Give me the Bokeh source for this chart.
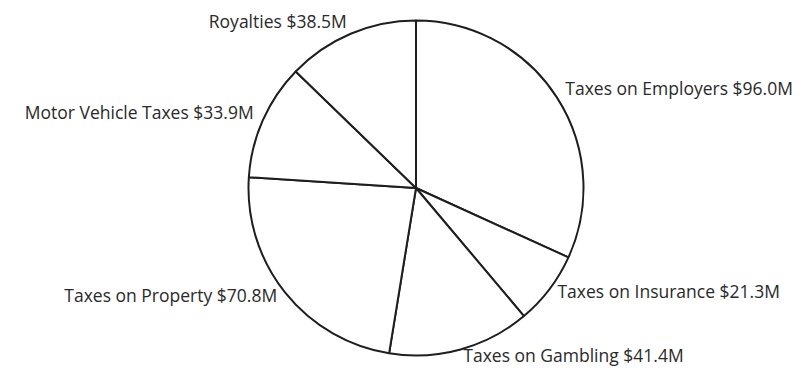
import numpy as np
from bokeh.plotting import figure
from bokeh.models import ColumnDataSource, Range1d
from bokeh.core.properties import value
from bokeh.embed import file_html
from bokeh.resources import INLINE

categories = ["Taxes on Employers", "Taxes on Insurance", "Taxes on Gambling",
              "Taxes on Property", "Motor Vehicle Taxes", "Royalties"]
values = [96.0, 21.3, 41.4, 70.8, 33.9, 38.5]

W, H = 807, 380
cx, cy, r = 415.5, H - 187.5, 167.5

vals = np.array(values)
frac = vals / vals.sum()
cum = np.concatenate([[0], np.cumsum(frac)])
start = np.pi / 2 - cum[:-1] * 2 * np.pi
end = np.pi / 2 - cum[1:] * 2 * np.pi
mid = (start + end) / 2

lr = r * 1.06
lx = cx + lr * np.cos(mid)
ly = cy + lr * np.sin(mid) + 4
align = ["left" if x > cx else "right" for x in lx]
labels = [f"{c} ${v:.1f}M" for c, v in zip(categories, values)]

src = ColumnDataSource(dict(start=start, end=end, lx=lx, ly=ly, align=align, label=labels))

p = figure(width=W, height=H, output_backend="svg", toolbar_location=None,
           x_range=Range1d(0, W), y_range=Range1d(0, H), min_border=0)
p.axis.visible = False
p.grid.visible = False
p.outline_line_color = None
p.background_fill_color = "white"
p.border_fill_color = "white"

p.wedge(x=cx, y=cy, radius=r, start_angle="start", end_angle="end", direction="clock",
        fill_color="white", line_color="#1e1e1e", line_width=2, source=src)
p.text(x="lx", y="ly", text="label", text_align="align", text_baseline="middle",
       text_font=value("Open Sans"), text_font_size="17.5px", text_color="#2a2a2a", source=src)

open("out.html", "w").write(file_html(p, INLINE))
